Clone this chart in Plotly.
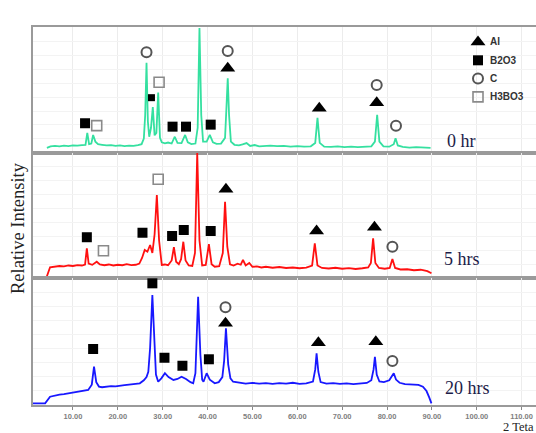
import plotly.graph_objects as go

# ---------------- data (2 theta, relative intensity per panel 0-100) ----------------
x_0hr = [4.2, 5.0, 6, 7, 8, 9, 10, 11, 12, 12.8, 13.2, 13.6, 14.1, 14.5, 15.0, 15.6, 16.5, 17.5, 18.5, 19.5,
         20.5, 21.5, 22.5, 23.5, 24.5, 25.3, 25.8, 26.1, 26.4, 26.7, 27.0, 27.4, 27.8, 28.2, 28.6, 29.0, 29.4,
         29.8, 30.5, 31.2, 32.0, 32.7, 33.3, 34.2, 35.0, 35.6, 36.4, 37.3, 37.8, 38.2, 38.6, 39.0, 39.8, 40.5,
         41.2, 42.0, 43.0, 43.9, 44.2, 44.5, 44.8, 45.2, 46.0, 47.0, 47.8, 48.7, 49.5, 50.5, 51.5, 52.5, 54,
         55.5, 57, 58.5, 60, 61.5, 63, 64.0, 64.5, 65.0, 66, 67.5, 69, 70.5, 72, 73.5, 75, 76.5, 77.3, 77.8,
         78.3, 79.2, 80.5, 81.5, 81.9, 82.4, 83.5, 85, 86.5, 88, 89.7]
y_0hr = [4.0, 5.2, 5.6, 5.3, 5.8, 5.5, 6.0, 5.8, 6.3, 6.5, 15.9, 7.0, 7.5, 14.3, 9.0, 7.0, 6.5, 6.0, 6.3, 5.6,
         6.0, 5.5, 5.9, 5.6, 6.2, 7.0, 11.5, 30, 71.7, 25, 12.9, 20, 36.5, 14, 16, 47.9, 12,
         8.5, 7.7, 8.3, 7.5, 12.9, 8.0, 7.8, 14.3, 8.5, 7.0, 7.5, 20, 99.2, 30, 9, 9, 14.3,
         8.5, 7.2, 7.5, 12, 35, 59.3, 30, 9, 6.5, 6.0, 6.8, 7.9, 5.6, 6.3, 5.2, 5.6, 5.8,
         5.4, 5.7, 5.0, 5.4, 5.0, 5.3, 8, 28.0, 8, 5.0, 4.8, 5.2, 4.7, 5.1, 4.6, 5.0, 5.3, 9, 30.2,
         9, 5.2, 5.0, 7, 11.7, 6, 4.8, 4.3, 4.7, 4.2, 4.0]

x_5hrs = [1.1, 4.1, 4.9, 6, 7, 8, 9, 10, 11, 12, 12.7, 13.1, 13.5, 14.3, 15.3, 16.0, 17, 18, 19, 20, 21, 22,
          23, 24, 24.8, 25.4, 26.0, 26.6, 27.2, 27.7, 28.2, 28.7, 29.2, 29.8, 30.5, 31.2, 32.0, 32.5, 33.0,
          33.6, 34.1, 34.6, 35.1, 35.8, 36.6, 37.2, 37.7, 38.2, 38.8, 39.6, 40.3, 40.9, 41.6, 42.6, 43.4,
          43.9, 44.4, 45.0, 45.8, 46.7, 47.4, 47.9, 48.5, 49.3, 50, 51, 52, 53, 54.5, 56, 57.5, 59, 60.5,
          62, 63.3, 63.9, 64.5, 65.5, 67, 68.5, 70, 71.5, 73, 74.5, 75.8, 76.4, 76.9, 77.4, 78.2, 79.5,
          80.6, 81.2, 81.8, 83, 84.5, 86, 87.5, 89, 89.9]
y_5hrs = [0.3, 0.3, 8.6, 9.2, 9.6, 9.3, 10.0, 9.6, 10.3, 10.0, 10.8, 23.8, 11.5, 10.5, 13.0, 10.8, 10.2, 10.8,
          10.0, 10.6, 10.2, 11.0, 10.3, 10.6, 11.5, 16, 22.4, 21, 26.4, 20, 35, 66.4, 30, 10.4, 10.8, 10.2,
          14, 24.6, 13, 11, 15, 29.0, 14, 10, 9.6, 20, 100, 30, 10, 10.5, 27.0, 11, 9, 9.5, 20,
          61.0, 25, 11, 10.0, 11.5, 10.6, 14.4, 10, 12, 9, 9.2, 8.4, 9.0, 8.2, 8.8, 8.0, 8.4, 7.8,
          8.3, 10, 27.8, 10, 8.0, 7.6, 8.2, 7.4, 7.9, 7.2, 7.8, 8.5, 12, 31.8, 12, 8.0, 7.4,
          8, 15.2, 8, 6.8, 7.0, 6.2, 6.6, 5.5, 3.8]

x_20hrs = [1.1, 3.8, 4.9, 6, 7, 8, 9, 10, 11, 12, 13.4, 14.2, 14.7, 15.2, 15.8, 16.5, 17.5, 18.5, 19.5, 20.5,
           21.5, 22.5, 23.5, 24.9, 25.8, 26.4, 26.8, 27.2, 27.7, 28.1, 28.5, 29.0, 29.7, 30.5, 31.3, 32.4,
           33.3, 34.2, 35.2, 36.2, 36.8, 37.3, 37.9, 38.4, 38.8, 39.1, 39.8, 40.5, 41.6, 42.5, 43.3, 43.7,
           44.1, 44.6, 45.1, 45.7, 47, 48.5, 50, 51.5, 53, 54.5, 56, 57.5, 59, 60.5, 62, 63.5, 64.0, 64.3,
           64.7, 65.2, 66.5, 68, 69.5, 71, 72.5, 74, 75.5, 76.5, 77.0, 77.3, 77.7, 78.3, 79.3, 80.5, 81.0,
           81.5, 82.0, 82.8, 84, 85.5, 87, 88.0, 88.8, 89.4, 89.9]
y_20hrs = [1.3, 1.3, 6.5, 7.5, 8.2, 8.6, 9.3, 9.7, 10.4, 10.8, 11.8, 16, 30.2, 18, 14.5, 14.0, 14.4, 14.8, 14.6,
           15.3, 15.6, 16.0, 16.4, 17.1, 19.5, 22, 26.2, 45, 86.6, 50, 24, 18.3, 21, 25.0, 22, 19.7,
           20.5, 22.3, 20.5, 18, 17.1, 25, 85.3, 40, 20, 18.3, 25.0, 20, 17.1, 18, 22, 35,
           60.4, 32, 21, 18.3, 17.5, 16.8, 17.4, 16.9, 17.3, 16.6, 17.2, 16.8, 17.5, 16.7, 17.0, 18.5, 28, 40.7,
           26, 18, 16.8, 17.2, 16.6, 17.0, 16.5, 17.1, 17.4, 19.5, 28, 38.0, 24, 18.5, 18, 19.5, 22,
           25.0, 20, 17.5, 16.5, 16.2, 15.8, 14.4, 11, 6, 1.3]

# phase identification labels (2 theta, label height) per panel
al_0hr_x, al_0hr_y = [38.1, 44.5, 64.9, 77.7], [105.6, 67.2, 35.5, 39.9]
b2o3_0hr_x, b2o3_0hr_y = [12.7, 32.2, 35.2, 40.7], [23.6, 20.9, 20.9, 22.5]
b2o3_small_0hr_x, b2o3_small_0hr_y = [27.5], [43.9]
c_0hr_x, c_0hr_y = [26.4, 44.5, 77.7, 82.0], [79.9, 81.0, 54.0, 21.7]
h3bo3_0hr_x, h3bo3_0hr_y = [15.3, 29.2], [21.7, 56.1]

al_5hrs_x, al_5hrs_y = [44.1, 64.3, 77.2], [71.0, 37.6, 40.6]
b2o3_5hrs_x, b2o3_5hrs_y = [13.1, 25.5, 32.1, 34.7, 40.7], [32.6, 36.2, 33.6, 38.4, 37.6]
c_5hrs_x, c_5hrs_y = [81.2], [25.0]
h3bo3_5hrs_x, h3bo3_5hrs_y = [16.8, 29.0], [21.8, 79.0]

al_20hrs_x, al_20hrs_y = [44.0, 64.7, 77.5], [64.3, 49.1, 49.8]
b2o3_20hrs_x, b2o3_20hrs_y = [14.5, 27.7, 30.4, 34.4, 40.3], [44.1, 95.8, 37.2, 30.9, 36.0]
c_20hrs_x, c_20hrs_y = [44.0, 81.2], [76.9, 34.6]

panel_labels = ["0 hr", "5 hrs", "20 hrs"]
phase_names = ["Al", "B2O3", "C", "H3BO3"]

# ---------------- figure ----------------
W, H = 536, 433
ML, MR, MT, MB = 33, 0, 27, 28
XR = [1.1, 113.2]
fig = go.Figure()

def px_to_paper(xp, yp):
    return (xp - ML) / (W - ML - MR), (H - MB - yp) / (H - MT - MB)

def px_to_top_data(xp, yp):
    # top panel spans pixel rows 27..153, value range 0..100
    xd = XR[0] + (xp - ML) / (W - ML - MR) * (XR[1] - XR[0])
    yd = (153 - yp) / 126 * 100
    return xd, yd

domains = [[0.6667, 1.0], [0.336, 0.6667], [0.0, 0.336]]
colors = ["#35e0a0", "#ff1010", "#1818ff"]
curves = [(x_0hr, y_0hr), (x_5hrs, y_5hrs), (x_20hrs, y_20hrs)]
axn = ["", "2", "3"]

for i, (cx, cy) in enumerate(curves):
    fig.add_trace(go.Scatter(x=cx, y=cy, mode="lines", line=dict(color=colors[i], width=1.8),
                             xaxis="x" + axn[i], yaxis="y" + axn[i], showlegend=False, hoverinfo="skip"))

SYM = {
    "Al": dict(symbol="triangle-up", size=13, color="black", line=dict(width=0)),
    "B2O3": dict(symbol="square", size=10, color="black", line=dict(width=0)),
    "C": dict(symbol="circle-open", size=10, color="#555555", line=dict(width=2, color="#555555")),
    "H3BO3": dict(symbol="square-open", size=10, color="#8a8a8a", line=dict(width=1.6, color="#8a8a8a")),
}

panel_marks = [
    [("Al", al_0hr_x, al_0hr_y), ("B2O3", b2o3_0hr_x, b2o3_0hr_y), ("C", c_0hr_x, c_0hr_y),
     ("H3BO3", h3bo3_0hr_x, h3bo3_0hr_y)],
    [("Al", al_5hrs_x, al_5hrs_y), ("B2O3", b2o3_5hrs_x, b2o3_5hrs_y), ("C", c_5hrs_x, c_5hrs_y),
     ("H3BO3", h3bo3_5hrs_x, h3bo3_5hrs_y)],
    [("Al", al_20hrs_x, al_20hrs_y), ("B2O3", b2o3_20hrs_x, b2o3_20hrs_y), ("C", c_20hrs_x, c_20hrs_y)],
]

for i, marks in enumerate(panel_marks):
    for name, mx, my in marks:
        fig.add_trace(go.Scatter(x=mx, y=my, mode="markers", marker=SYM[name], name=name,
                                 showlegend=False, cliponaxis=False,
                                 xaxis="x" + axn[i], yaxis="y" + axn[i], hoverinfo="skip"))

fig.add_trace(go.Scatter(x=b2o3_small_0hr_x, y=b2o3_small_0hr_y, mode="markers",
                         marker=dict(symbol="square", size=7, color="black"), showlegend=False,
                         cliponaxis=False, hoverinfo="skip"))

# manual legend (placed in the top panel)
leg_x_px, leg_y0_px, leg_dy_px = 478, 42, 18.3
ann = []
for k, name in enumerate(phase_names):
    lx, ly = px_to_top_data(leg_x_px, leg_y0_px + k * leg_dy_px)
    fig.add_trace(go.Scatter(x=[lx], y=[ly], mode="markers", marker=SYM[name], showlegend=False,
                             cliponaxis=False, xaxis="x", yaxis="y", hoverinfo="skip"))
    tx, ty = px_to_paper(leg_x_px + 10, leg_y0_px + k * leg_dy_px)
    ann.append(dict(text=name, x=tx, y=ty, xref="paper", yref="paper", xanchor="left", yanchor="middle",
                    showarrow=False, font=dict(family="Liberation Sans", size=10, color="#333333",
                                               weight="bold")))

xcommon = dict(range=XR, dtick=10, tick0=0, showgrid=True, gridcolor="#ececec", gridwidth=1,
               showline=True, linecolor="#9a9a9a", linewidth=2, mirror=True, zeroline=False,
               automargin=False)
ycommon = dict(range=[0, 100], showticklabels=False, ticks="", showgrid=True, gridcolor="#f3f3f3",
               dtick=11.11, tick0=0, showline=True, linecolor="#9a9a9a", linewidth=1.5, zeroline=False,
               automargin=False)

layout = dict(
    width=W, height=H, margin=dict(l=ML, r=MR, t=MT, b=MB, autoexpand=False),
    paper_bgcolor="white", plot_bgcolor="white",
    showlegend=False,
)
for i in range(3):
    xa = dict(xcommon, domain=[0, 1], anchor="y" + axn[i])
    if i < 2:
        xa.update(showticklabels=False, matches="x3")
    else:
        xa.update(tickformat=".2f", ticks="outside", ticklen=3, tickcolor="#888888",
                  tickfont=dict(family="Liberation Sans", size=7.5, color="#808080", weight="bold"))
    layout["xaxis" + axn[i]] = xa
    layout["yaxis" + axn[i]] = dict(ycommon, domain=domains[i], anchor="x" + axn[i])

fig.update_layout(**layout)

label_pos = [(445, 141), (442, 259), (443, 388)]
for txt, (xp, yp) in zip(panel_labels, label_pos):
    px, py = px_to_paper(xp, yp)
    ann.append(dict(text=txt, x=px, y=py, xref="paper", yref="paper", xanchor="left", yanchor="middle",
                    showarrow=False, font=dict(family="Liberation Serif", size=18, color="#1c1c48")))
px, py = px_to_paper(518, 427)
ann.append(dict(text="2 Teta", x=px, y=py, xref="paper", yref="paper", xanchor="center", yanchor="middle",
                showarrow=False, font=dict(family="Liberation Serif", size=12.5, color="#222222")))
px, py = px_to_paper(18, 228)
ann.append(dict(text="Relative Intensity", x=px, y=py, xref="paper", yref="paper", xanchor="center",
                yanchor="middle", textangle=-90, showarrow=False,
                font=dict(family="Liberation Serif", size=18.5, color="#222222")))
fig.update_layout(annotations=ann)

fig.write_html("out.html", config={"displayModeBar": False},
               post_script="document.body.style.margin='0';document.body.style.padding='0';")
